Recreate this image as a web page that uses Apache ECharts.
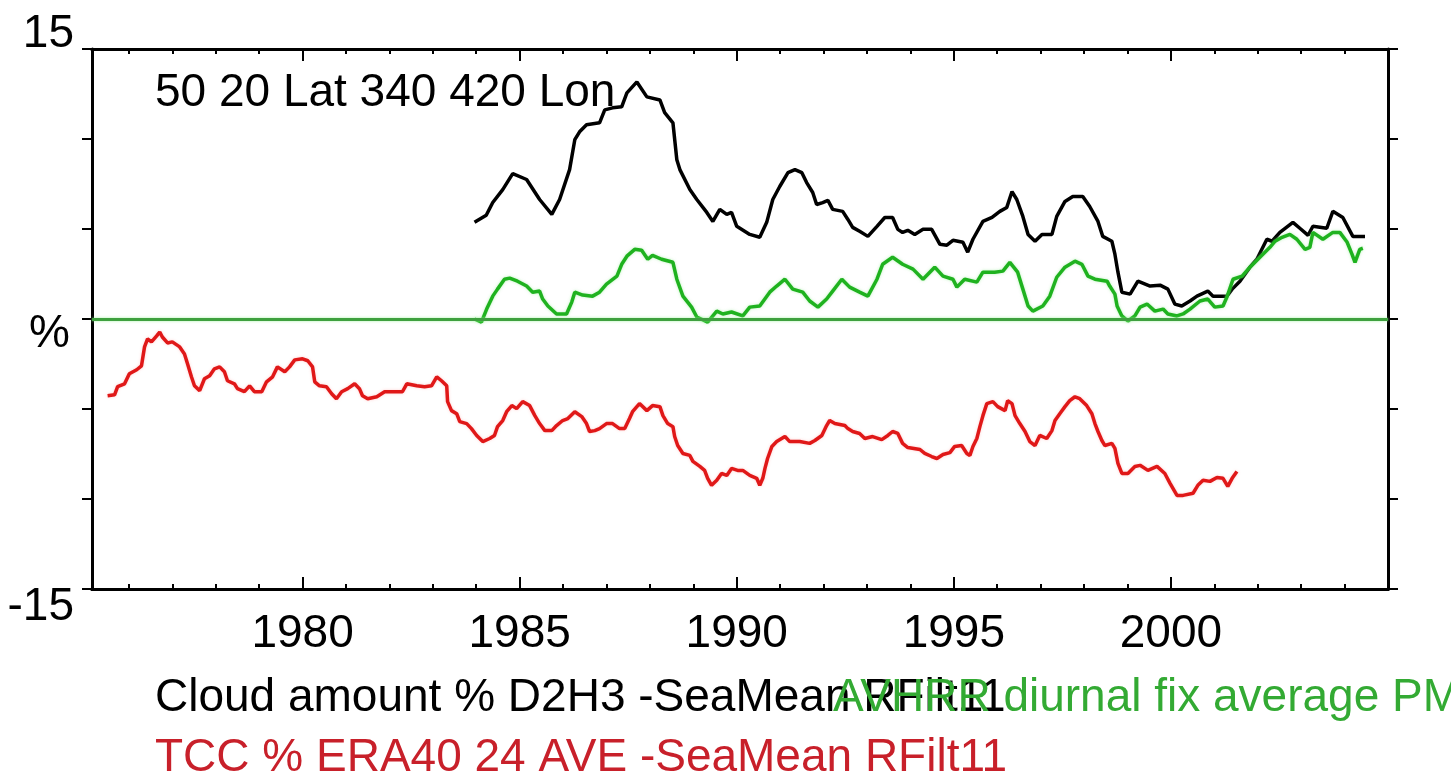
<!DOCTYPE html>
<html>
<head>
<meta charset="utf-8">
<script src="https://cdn.jsdelivr.net/npm/echarts@6/dist/echarts.min.js"></script>
<style>
html,body{margin:0;padding:0;background:#fff;}
#c{width:1451px;height:774px;}
</style>
</head>
<body>
<div id="c"></div>
<script>
// ---- data ----
const blackYears = [1983.96,1984.23,1984.38,1984.61,1984.84,1985.16,1985.46,1985.74,1985.92,1986.15,1986.27,1986.38,1986.54,1986.84,1986.96,1987.14,1987.35,1987.47,1987.70,1987.93,1988.23,1988.34,1988.53,1988.62,1988.69,1988.92,1989.08,1989.31,1989.45,1989.61,1989.77,1989.88,1990.00,1990.30,1990.53,1990.69,1990.83,1990.99,1991.18,1991.34,1991.50,1991.61,1991.75,1991.84,1991.98,1992.10,1992.21,1992.44,1992.56,1992.67,1992.83,1993.02,1993.23,1993.41,1993.59,1993.71,1993.82,1993.94,1994.10,1994.29,1994.49,1994.68,1994.84,1994.98,1995.21,1995.32,1995.44,1995.67,1995.88,1996.06,1996.22,1996.34,1996.45,1996.59,1996.71,1996.87,1997.03,1997.26,1997.37,1997.56,1997.74,1997.97,1998.13,1998.32,1998.43,1998.64,1998.71,1998.78,1998.87,1999.06,1999.24,1999.52,1999.75,1999.93,2000.09,2000.25,2000.44,2000.60,2000.85,2000.97,2001.29,2001.41,2001.59,2001.82,2001.98,2002.21,2002.33,2002.51,2002.81,2002.97,2003.16,2003.27,2003.59,2003.73,2003.96,2004.19,2004.47];
const blackValues = [5.37,5.76,6.47,7.19,8.08,7.75,6.64,5.81,6.64,8.30,9.96,10.40,10.79,10.90,11.62,11.73,11.79,12.56,13.17,12.34,12.17,11.46,10.90,8.85,8.30,7.19,6.64,5.92,5.42,6.09,5.81,5.92,5.15,4.70,4.54,5.37,6.64,7.36,8.13,8.30,8.13,7.58,7.03,6.36,6.47,6.59,6.09,5.98,5.53,5.09,4.87,4.59,5.15,5.64,5.64,4.98,4.81,4.93,4.70,4.98,4.98,4.15,4.10,4.37,4.26,3.71,4.43,5.42,5.64,5.98,6.20,7.08,6.64,5.70,4.70,4.32,4.70,4.70,5.70,6.53,6.81,6.81,6.25,5.42,4.59,4.32,3.60,2.60,1.49,1.38,2.10,1.83,1.88,1.66,0.83,0.72,1.00,1.27,1.55,1.27,1.27,1.66,2.10,2.88,3.32,4.43,4.32,4.81,5.37,5.04,4.65,5.15,5.04,5.98,5.64,4.59,4.59];

const greenYears = [1983.96,1984.12,1984.24,1984.38,1984.49,1984.65,1984.77,1984.95,1985.16,1985.30,1985.46,1985.53,1985.65,1985.85,1986.08,1986.20,1986.27,1986.45,1986.68,1986.84,1987.00,1987.24,1987.35,1987.47,1987.65,1987.81,1987.95,1988.06,1988.27,1988.53,1988.62,1988.76,1988.96,1989.08,1989.33,1989.54,1989.68,1989.88,1990.14,1990.30,1990.53,1990.76,1990.92,1991.11,1991.29,1991.52,1991.68,1991.87,1992.07,1992.21,1992.42,1992.60,1992.83,1993.02,1993.23,1993.36,1993.59,1993.82,1994.06,1994.29,1994.56,1994.75,1994.98,1995.07,1995.25,1995.53,1995.67,1995.94,1996.13,1996.29,1996.47,1996.59,1996.71,1996.82,1997.05,1997.21,1997.37,1997.56,1997.79,1997.95,1998.09,1998.25,1998.53,1998.59,1998.71,1998.76,1998.87,1999.01,1999.17,1999.29,1999.45,1999.63,1999.82,1999.93,2000.14,2000.28,2000.44,2000.67,2000.85,2001.01,2001.20,2001.29,2001.43,2001.64,2001.82,2002.05,2002.28,2002.40,2002.56,2002.74,2002.90,2003.09,2003.20,2003.27,2003.50,2003.73,2003.89,2004.06,2004.17,2004.24,2004.35,2004.42];
const greenValues = [0.00,-0.17,0.55,1.27,1.66,2.21,2.27,2.10,1.83,1.49,1.55,1.11,0.72,0.28,0.28,0.94,1.49,1.33,1.27,1.49,1.94,2.38,3.04,3.49,3.87,3.82,3.32,3.54,3.32,3.15,2.21,1.27,0.66,0.11,-0.17,0.44,0.28,0.39,0.17,0.66,0.72,1.49,1.83,2.21,1.66,1.49,1.00,0.66,1.11,1.55,2.21,1.77,1.49,1.27,2.21,3.04,3.43,3.04,2.77,2.21,2.88,2.38,2.21,1.77,2.21,2.05,2.60,2.60,2.66,3.15,2.60,1.66,0.72,0.44,0.72,1.27,2.32,2.88,3.21,3.04,2.38,2.21,2.10,1.83,1.38,0.72,0.17,-0.11,0.17,0.66,0.83,0.44,0.55,0.28,0.17,0.28,0.55,1.00,1.11,0.66,0.72,1.22,2.21,2.38,2.88,3.43,3.98,4.32,4.54,4.70,4.43,3.87,3.98,4.81,4.43,4.81,4.81,4.26,3.60,3.15,3.87,3.93];

const redYears = [1975.51,1975.67,1975.74,1975.90,1976.01,1976.18,1976.29,1976.36,1976.43,1976.52,1976.64,1976.71,1976.77,1976.89,1977.00,1977.17,1977.28,1977.35,1977.44,1977.51,1977.63,1977.74,1977.86,1977.97,1978.09,1978.20,1978.27,1978.43,1978.50,1978.66,1978.78,1978.89,1979.06,1979.17,1979.31,1979.42,1979.59,1979.70,1979.82,1980.00,1980.12,1980.23,1980.28,1980.39,1980.55,1980.67,1980.78,1980.90,1981.04,1981.20,1981.31,1981.38,1981.50,1981.71,1981.89,1982.07,1982.30,1982.40,1982.63,1982.81,1982.97,1983.09,1983.20,1983.32,1983.34,1983.43,1983.55,1983.62,1983.78,1983.89,1984.01,1984.15,1984.31,1984.42,1984.49,1984.61,1984.70,1984.82,1984.93,1985.07,1985.23,1985.35,1985.46,1985.58,1985.74,1985.85,1985.99,1986.11,1986.27,1986.43,1986.54,1986.61,1986.73,1986.84,1987.00,1987.14,1987.30,1987.42,1987.53,1987.60,1987.76,1987.93,1988.06,1988.23,1988.30,1988.41,1988.53,1988.57,1988.64,1988.76,1988.92,1988.99,1989.15,1989.26,1989.33,1989.42,1989.54,1989.65,1989.77,1989.88,1990.02,1990.14,1990.30,1990.46,1990.53,1990.60,1990.65,1990.71,1990.81,1990.92,1991.11,1991.22,1991.45,1991.68,1991.80,1991.96,1992.07,1992.14,1992.26,1992.49,1992.56,1992.67,1992.83,1992.95,1993.13,1993.34,1993.48,1993.59,1993.71,1993.82,1993.94,1994.22,1994.33,1994.49,1994.61,1994.75,1994.91,1995.02,1995.18,1995.30,1995.37,1995.44,1995.53,1995.60,1995.67,1995.76,1995.90,1996.01,1996.18,1996.24,1996.34,1996.41,1996.52,1996.64,1996.75,1996.87,1996.98,1997.14,1997.26,1997.33,1997.44,1997.56,1997.67,1997.79,1997.90,1998.06,1998.18,1998.25,1998.32,1998.41,1998.48,1998.64,1998.71,1998.78,1998.87,1999.01,1999.17,1999.29,1999.47,1999.68,1999.86,1999.98,2000.14,2000.28,2000.51,2000.62,2000.74,2000.90,2001.06,2001.20,2001.31,2001.41,2001.52];
const redValues = [-4.26,-4.21,-3.76,-3.60,-3.04,-2.82,-2.60,-1.55,-1.11,-1.27,-0.94,-0.72,-1.00,-1.33,-1.27,-1.55,-1.94,-2.49,-3.21,-3.71,-3.98,-3.32,-3.15,-2.77,-2.66,-2.93,-3.43,-3.60,-3.87,-4.04,-3.71,-4.04,-4.04,-3.49,-3.21,-2.66,-2.93,-2.66,-2.27,-2.21,-2.32,-2.66,-3.49,-3.71,-3.76,-4.15,-4.43,-4.04,-3.87,-3.60,-3.87,-4.26,-4.43,-4.32,-4.04,-4.04,-4.04,-3.60,-3.71,-3.76,-3.71,-3.21,-3.43,-3.71,-4.59,-5.09,-5.26,-5.70,-5.81,-6.09,-6.47,-6.81,-6.64,-6.47,-5.98,-5.64,-5.15,-4.81,-4.98,-4.59,-4.81,-5.37,-5.81,-6.20,-6.20,-5.92,-5.64,-5.53,-5.15,-5.42,-5.81,-6.25,-6.20,-6.09,-5.81,-5.81,-6.09,-6.09,-5.53,-5.15,-4.70,-5.09,-4.81,-4.87,-5.37,-5.81,-5.98,-6.53,-7.03,-7.47,-7.58,-7.91,-8.19,-8.41,-8.85,-9.24,-8.96,-8.58,-8.69,-8.30,-8.41,-8.41,-8.69,-8.85,-9.24,-8.85,-8.30,-7.75,-7.08,-6.81,-6.53,-6.81,-6.81,-6.91,-6.75,-6.47,-5.92,-5.64,-5.81,-5.92,-6.09,-6.25,-6.36,-6.64,-6.53,-6.70,-6.47,-6.25,-6.36,-6.91,-7.14,-7.25,-7.47,-7.64,-7.75,-7.53,-7.42,-7.08,-7.03,-7.47,-7.58,-7.08,-6.64,-5.98,-5.37,-4.70,-4.59,-4.87,-5.09,-4.54,-4.70,-5.37,-5.81,-6.25,-6.81,-7.03,-6.47,-6.64,-6.20,-5.64,-5.26,-4.87,-4.54,-4.32,-4.43,-4.81,-5.26,-5.81,-6.25,-6.75,-7.03,-6.91,-7.19,-8.02,-8.58,-8.58,-8.19,-8.13,-8.41,-8.19,-8.58,-9.13,-9.80,-9.80,-9.68,-9.24,-8.96,-9.02,-8.80,-8.85,-9.30,-8.85,-8.47];

const majorYears = [1980,1985,1990,1995,2000];
const minorYears = [1976,1977,1978,1979,1981,1982,1983,1984,1986,1987,1988,1989,1991,1992,1993,1994,1996,1997,1998,1999,2001,2002,2003,2004];
const yLabelValues = [15, 0, -15];
const yLabelTexts = ['15', '%', '-15'];

const titleText = '50 20 Lat 340 420 Lon';
const blackName = 'Cloud amount % D2H3 -SeaMean RFilt11';
const greenName = 'AVHRR diurnal fix average PM';
const redName = 'TCC % ERA40 24 AVE -SeaMean RFilt11';

// ---- chart ----
const zip = (xs, ys) => xs.map((x, i) => [x, ys[i]]);
const FONT = "'Liberation Sans', Arial, sans-serif";
const FS = 46;
const XMIN = 1975.15, XMAX = 2005.0;

const chart = echarts.init(document.getElementById('c'), null, {renderer: 'canvas'});

function xAx(pos, ticks, len, labels) {
  return {
    type: 'value', position: pos, min: XMIN, max: XMAX,
    axisLine: {show: true, onZero: false, lineStyle: {color: '#000', width: 3}},
    axisTick: {show: true, inside: true, length: len, customValues: ticks, lineStyle: {color: '#000', width: 2}},
    axisLabel: labels ? {show: true, customValues: ticks, color: '#000', fontFamily: FONT, fontSize: FS, margin: 22, formatter: v => String(Math.round(v))} : {show: false},
    splitLine: {show: false}
  };
}

const yRich = {
  a: {fontFamily: FONT, fontSize: FS, color: '#000', padding: [0, 0, 30, 0]},
  b: {fontFamily: FONT, fontSize: FS, color: '#000', padding: [30, 4, 0, 0]},
  c: {fontFamily: FONT, fontSize: FS, color: '#000', padding: [36, 0, 0, 0]}
};
const yKeys = ['a', 'b', 'c'];

const option = {
  animation: false,
  backgroundColor: '#fff',
  grid: {left: 92, right: 63, top: 49, bottom: 185, containLabel: false},
  title: [
    {text: titleText, left: 155, top: 70, textStyle: {fontFamily: FONT, fontSize: FS, fontWeight: 'normal', color: '#000'}, padding: 0},
    {text: blackName, left: 155, top: 675, textStyle: {fontFamily: FONT, fontSize: FS, fontWeight: 'normal', color: '#000'}, padding: 0},
    {text: greenName, left: 833, top: 675, textStyle: {fontFamily: FONT, fontSize: FS, fontWeight: 'normal', color: '#33aa33'}, padding: 0},
    {text: redName, left: 155, top: 735, textStyle: {fontFamily: FONT, fontSize: FS, fontWeight: 'normal', color: '#c8202a'}, padding: 0}
  ],
  xAxis: [
    xAx('bottom', majorYears, 12, true),
    xAx('bottom', minorYears, 5, false),
    xAx('top', majorYears, 12, false),
    xAx('top', minorYears, 5, false)
  ],
  yAxis: [
    {
      type: 'value', position: 'left', min: -15, max: 15, interval: 5,
      axisLine: {show: true, onZero: false, lineStyle: {color: '#000', width: 3}},
      axisTick: {show: true, inside: false, length: 10, lineStyle: {color: '#000', width: 2}},
      axisLabel: {
        show: true, customValues: yLabelValues, margin: 18,
        formatter: v => {
          const i = yLabelValues.indexOf(Math.round(v));
          return i < 0 ? '' : '{' + yKeys[i] + '|' + yLabelTexts[i] + '}';
        },
        rich: yRich
      },
      splitLine: {show: false}
    },
    {
      type: 'value', position: 'right', min: -15, max: 15, interval: 5,
      axisLine: {show: true, onZero: false, lineStyle: {color: '#000', width: 3}},
      axisTick: {show: true, inside: false, length: 10, lineStyle: {color: '#000', width: 2}},
      axisLabel: {show: false},
      splitLine: {show: false}
    }
  ],
  series: [
    {
      name: redName, type: 'line', xAxisIndex: 0, yAxisIndex: 0,
      data: zip(redYears, redValues), showSymbol: false, symbol: 'none',
      lineStyle: {color: '#e01818', width: 3.5, shadowColor: 'rgba(255,120,120,0.35)', shadowBlur: 3}
    },
    {
      name: blackName, type: 'line', xAxisIndex: 0, yAxisIndex: 0,
      data: zip(blackYears, blackValues), showSymbol: false, symbol: 'none',
      lineStyle: {color: '#000', width: 3.5}
    },
    {
      name: greenName, type: 'line', xAxisIndex: 0, yAxisIndex: 0,
      data: zip(greenYears, greenValues), showSymbol: false, symbol: 'none',
      lineStyle: {color: '#1fb21f', width: 3.5, shadowColor: 'rgba(120,230,120,0.5)', shadowBlur: 3},
      markLine: {
        silent: true, symbol: 'none', label: {show: false},
        lineStyle: {color: '#3fa03f', width: 3, type: 'solid', shadowColor: 'rgba(150,240,150,0.8)', shadowBlur: 3},
        data: [{yAxis: 0}]
      }
    }
  ]
};
chart.setOption(option);
</script>
</body>
</html>
